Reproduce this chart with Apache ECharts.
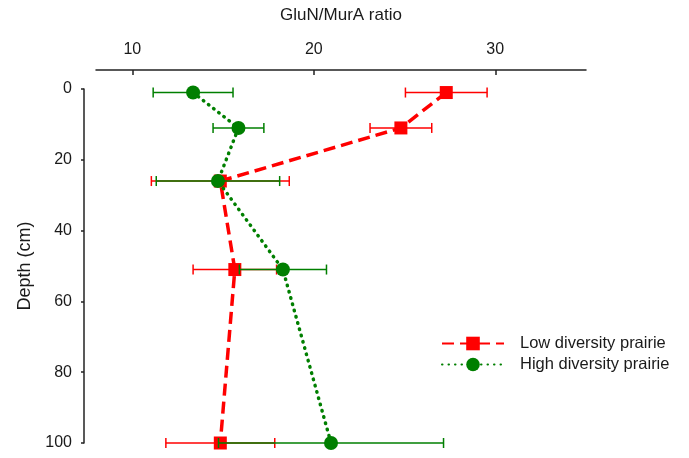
<!DOCTYPE html>
<html>
<head>
<meta charset="utf-8">
<script src="https://cdn.jsdelivr.net/npm/echarts@6/dist/echarts.min.js"></script>
<style>
  html, body { margin: 0; padding: 0; background: #fff; }
  #chart { width: 689px; height: 458px; }
</style>
</head>
<body>
<div id="chart"></div>
<script>
// Sampling depths (cm)
const depths = [1, 11, 26, 51, 100];

// GluN/MurA ratio, mean and error (half-width of bar)
const lowMean = [27.3, 24.8, 14.85, 15.65, 14.85];
const lowErr  = [2.25, 1.7, 3.8, 2.3, 3.0];
const highMean = [13.35, 15.85, 14.72, 18.3, 20.95];
const highErr  = [2.2, 1.4, 3.4, 2.4, 6.2];

// Axis extents and tick labels
const xRange = [8, 35];
const xTickValues = [10, 20, 30];
const yTicks = { min: 0, max: 100, interval: 20 };

const RED = '#ff0000';
const GREEN = '#007f00';
const FONT = 'Liberation Sans, Arial, sans-serif';
const TXT = '#1a1a1a';

function points(means) {
  return means.map((m, i) => [m, depths[i]]);
}
function bars(means, errs) {
  return means.map((m, i) => [m - errs[i], depths[i], m + errs[i]]);
}

// Horizontal error bar with end caps
function errorBar(color) {
  return function (params, api) {
    const d = api.value(1);
    const a = api.coord([api.value(0), d]);
    const b = api.coord([api.value(2), d]);
    const h = 5;
    const style = { stroke: color, lineWidth: 1.5 };
    return {
      type: 'group',
      children: [
        { type: 'line', shape: { x1: a[0], y1: a[1], x2: b[0], y2: b[1] }, style },
        { type: 'line', shape: { x1: a[0], y1: a[1] - h, x2: a[0], y2: a[1] + h }, style },
        { type: 'line', shape: { x1: b[0], y1: b[1] - h, x2: b[0], y2: b[1] + h }, style }
      ]
    };
  };
}

const chart = echarts.init(document.getElementById('chart'), null, { renderer: 'canvas' });

chart.setOption({
  animation: false,
  backgroundColor: '#ffffff',
  textStyle: { fontFamily: FONT, color: TXT },
  grid: { left: 96, right: 103, top: 89, bottom: 15, containLabel: false, outerBoundsMode: 'none' },
  legend: {
    orient: 'vertical',
    left: 436,
    top: 330,
    itemWidth: 62,
    itemHeight: 17,
    itemGap: 4,
    data: ['Low diversity prairie', 'High diversity prairie'],
    textStyle: { fontFamily: FONT, fontSize: 16.5, color: TXT, padding: [0, 0, 0, 11] }
  },
  xAxis: {
    type: 'value',
    position: 'top',
    offset: 19,
    min: xRange[0],
    max: xRange[1],
    name: 'GluN/MurA ratio',
    nameLocation: 'middle',
    nameGap: 46,
    nameTextStyle: { fontFamily: FONT, fontSize: 17, color: TXT },
    axisLine: { show: true, onZero: false, lineStyle: { color: '#222', width: 1.5 } },
    axisTick: { show: true, inside: true, length: 5, customValues: xTickValues, lineStyle: { color: '#222', width: 1.5 } },
    axisLabel: { fontFamily: FONT, fontSize: 16, color: TXT, margin: 12, customValues: xTickValues },
    splitLine: { show: false }
  },
  yAxis: {
    type: 'value',
    inverse: true,
    position: 'left',
    offset: 12,
    min: yTicks.min,
    max: yTicks.max,
    interval: yTicks.interval,
    name: 'Depth (cm)',
    nameLocation: 'middle',
    nameRotate: 90,
    nameGap: 44,
    nameTextStyle: { fontFamily: FONT, fontSize: 18, color: TXT },
    axisLine: { show: true, onZero: false, lineStyle: { color: '#222', width: 1.5 } },
    axisTick: { show: true, inside: false, length: 3, lineStyle: { color: '#222', width: 1.5 } },
    axisLabel: { fontFamily: FONT, fontSize: 16, color: TXT, margin: 12 },
    splitLine: { show: false }
  },
  series: [
    {
      type: 'custom',
      name: 'lowErr',
      renderItem: errorBar(RED),
      encode: { x: [0, 2], y: 1 },
      data: bars(lowMean, lowErr),
      z: 1,
      silent: true
    },
    {
      type: 'line',
      name: 'Low diversity prairie',
      data: points(lowMean),
      symbol: 'rect',
      symbolSize: 13,
      itemStyle: { color: RED },
      lineStyle: { color: RED, width: 3.5, type: [12, 6] },
      z: 2
    },
    {
      type: 'custom',
      name: 'highErr',
      renderItem: errorBar(GREEN),
      encode: { x: [0, 2], y: 1 },
      data: bars(highMean, highErr),
      z: 3,
      silent: true
    },
    {
      type: 'line',
      name: 'High diversity prairie',
      data: points(highMean),
      symbol: 'circle',
      symbolSize: 14,
      itemStyle: { color: GREEN },
      lineStyle: { color: GREEN, width: 3.5, type: [0.5, 6], cap: 'round' },
      z: 4
    }
  ]
});
</script>
</body>
</html>
